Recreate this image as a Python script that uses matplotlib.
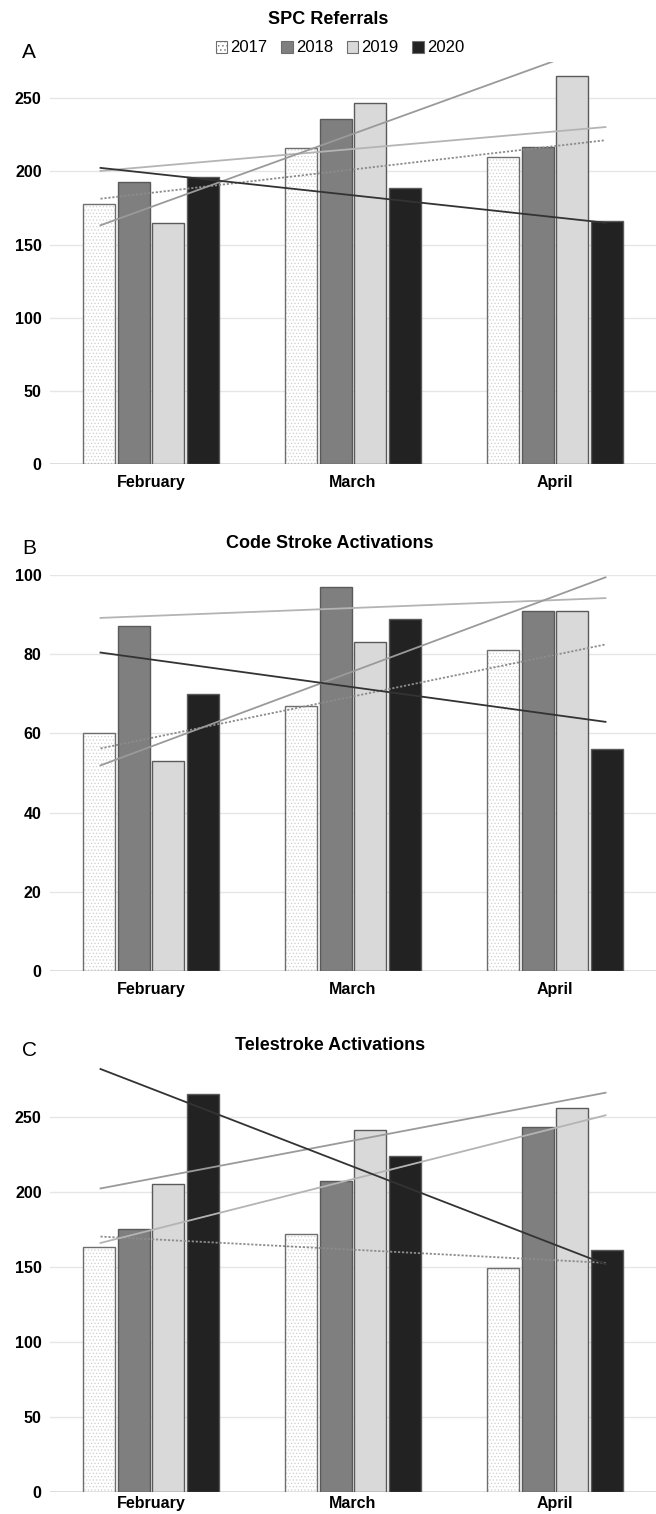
import numpy as np
import matplotlib
matplotlib.use("Agg")
import matplotlib.pyplot as plt
from matplotlib.patches import Patch

plt.rcParams['font.family'] = ['Liberation Sans', 'DejaVu Sans']
plt.rcParams['hatch.linewidth'] = 0.5

# data
months = ["February", "March", "April"]
years = ["2017", "2018", "2019", "2020"]

spc_2017 = [178, 216, 210]
spc_2018 = [193, 236, 217]
spc_2019 = [165, 247, 265]
spc_2020 = [196, 189, 166]

code_2017 = [60, 67, 81]
code_2018 = [87, 97, 91]
code_2019 = [53, 83, 91]
code_2020 = [70, 89, 56]

tele_2017 = [163, 172, 149]
tele_2018 = [175, 207, 243]
tele_2019 = [205, 241, 256]
tele_2020 = [265, 224, 161]

bar_colors = ["white", "#7f7f7f", "#d9d9d9", "#222222"]
trend_colors = ["#8c8c8c", "#b4b4b4", "#9a9a9a", "#333333"]
trend_styles = [(0, (1.2, 1.0)), "-", "-", "-"]

W, H = 656, 1514
fig = plt.figure(figsize=(W / 100, H / 100), dpi=100)


def px_axes(left, top, right, bottom):
    return fig.add_axes([left / W, 1 - bottom / H, (right - left) / W, (bottom - top) / H])


def draw_panel(ax, series, ymax, ystep, xpad=8):
    x = np.arange(len(months))
    pitch = 0.172
    width = 0.158
    for i, vals in enumerate(series):
        pos = x + (i - 1.5) * pitch
        if i == 0:
            ax.bar(pos, vals, width, color="white", hatch=".....", edgecolor="#cfcfcf",
                   linewidth=0, zorder=2)
            ax.bar(pos, vals, width, fill=False, edgecolor="#6e6e6e", linewidth=1.0, zorder=3)
        else:
            ax.bar(pos, vals, width, color=bar_colors[i], edgecolor="#5a5a5a",
                   linewidth=1.0, zorder=3)
    # linear trendlines
    for i, vals in enumerate(series):
        k, b = np.polyfit(x, vals, 1)
        xt = np.array([-0.25, 2.25])
        ax.plot(xt, k * xt + b, color=trend_colors[i], linestyle=trend_styles[i],
                linewidth=1.3, zorder=4)
    ax.set_xlim(-0.5, 2.5)
    ax.set_ylim(0, ymax)
    ax.set_yticks(np.arange(0, ymax + 0.1, ystep))
    ax.set_xticks(x)
    ax.set_xticklabels(months)
    ax.grid(axis="y", color="#e6e6e6", linewidth=1.0, zorder=0)
    ax.set_axisbelow(True)
    for s in ax.spines.values():
        s.set_visible(False)
    ax.axhline(0, color="#d9d9d9", linewidth=1.2, zorder=1)
    ax.tick_params(length=0)
    ax.tick_params(axis="y", pad=6)
    ax.tick_params(axis="x", pad=xpad)
    for lab in ax.get_xticklabels() + ax.get_yticklabels():
        lab.set_fontweight("bold")
        lab.set_fontsize(11.5)


axA = px_axes(50, 61.7, 656, 464)
draw_panel(axA, [spc_2017, spc_2018, spc_2019, spc_2020], 275, 50)

axB = px_axes(50, 575, 656, 971)
draw_panel(axB, [code_2017, code_2018, code_2019, code_2020], 100, 20)

axC = px_axes(50, 1064, 656, 1492)
draw_panel(axC, [tele_2017, tele_2018, tele_2019, tele_2020], 285, 50, xpad=3)

# titles and panel letters
fig.text(328 / W, 1 - 20 / H, "SPC Referrals", ha="center", va="center",
         fontsize=13, fontweight="bold")
fig.text(330 / W, 1 - 543 / H, "Code Stroke Activations", ha="center", va="center",
         fontsize=13, fontweight="bold")
fig.text(330 / W, 1 - 1045 / H, "Telestroke Activations", ha="center", va="center",
         fontsize=13, fontweight="bold")
for letter, y in [("A", 52), ("B", 548), ("C", 1050)]:
    fig.text(22 / W, 1 - y / H, letter, ha="left", va="center", fontsize=15)

handles = [Patch(facecolor=bar_colors[i], edgecolor="#6e6e6e",
                 hatch="...." if i == 0 else None, linewidth=0.8) for i in range(4)]
fig.legend(handles, years, loc="center", bbox_to_anchor=(340 / W, 1 - 48 / H),
           ncol=4, frameon=False, fontsize=12, handlelength=0.7, handleheight=0.7,
           handletextpad=0.2, columnspacing=0.8)

fig.savefig("out.png", dpi=100)
